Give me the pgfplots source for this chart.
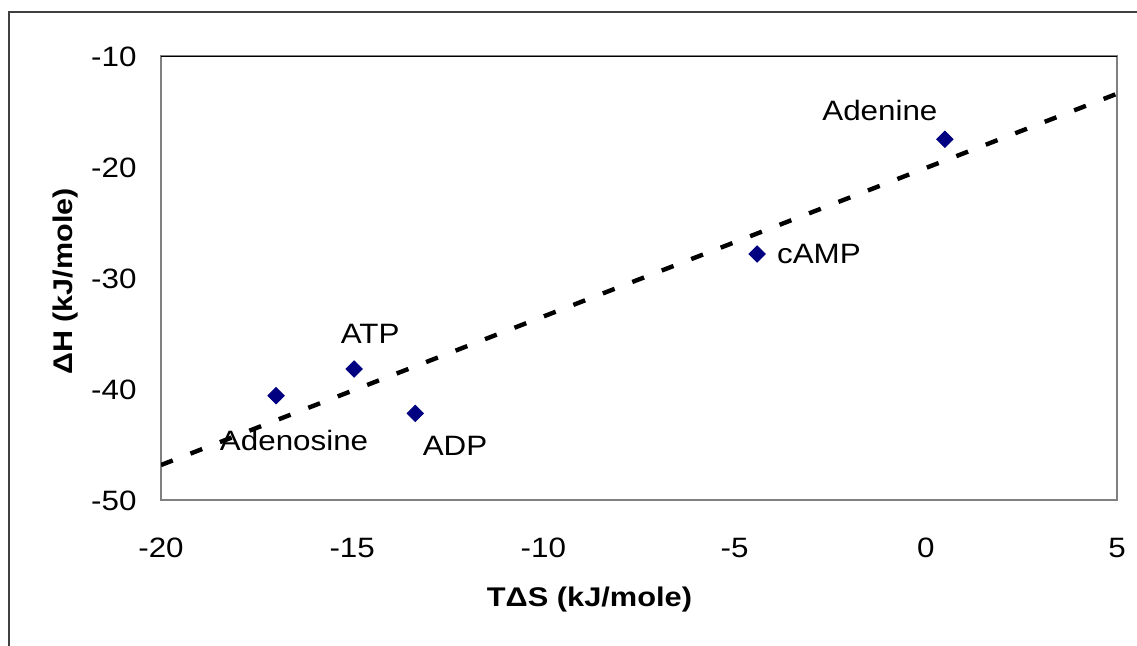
\documentclass[border=0pt]{standalone}
\usepackage{pgfplots}
\pgfplotsset{compat=1.18}
\usepackage{fontspec}
\setmainfont{Liberation Sans}
\begin{document}
\begin{tikzpicture}
\useasboundingbox (0,0) rectangle (568.5pt,-323pt);
\draw[line width=0.7pt, black!75] (568.5pt,-6pt) -- (4.5pt,-6pt) -- (4.5pt,-323pt);
\begin{axis}[
  at={(80.5pt,-250pt)}, anchor=south west,
  width=478pt, height=222pt, scale only axis,
  xmin=-20, xmax=5, ymin=-50, ymax=-10,
  xtick={-20,-15,-10,-5,0,5},
  xticklabels={-20,-15,-10,-5,0,5},
  ytick={-50,-40,-30,-20,-10},
  yticklabels={-50,-40,-30,-20,-10},
  major tick length=0pt,
  axis line style={gray, line width=0.8pt},
  tick label style={font=\fontsize{14}{16}\selectfont, inner sep=0pt},
  xticklabel style={anchor=base, yshift=-29pt, xscale=1.12},
  yticklabel style={anchor=base east, xshift=-12pt, yshift=-5.3pt, xscale=1.12},
  xlabel={TΔS (kJ/mole)},
  ylabel={ΔH (kJ/mole)},
  label style={font=\fontsize{13.5}{15}\selectfont\bfseries, inner sep=0pt},
  xlabel style={at={(axis description cs:0.4482,-0.241)}, anchor=base, xscale=1.14},
  ylabel style={at={(axis description cs:-0.0931,0.492)}, anchor=base, xscale=1.13},
]
\addplot[black, line width=2.2pt, dash pattern=on 6.3pt off 9.5pt] coordinates {(-20,-46.85) (5,-13.4)};
\addplot[only marks, mark=square*, mark size=2.9pt, mark options={rotate=45, fill={rgb,255:red,0;green,0;blue,128}, draw={rgb,255:red,0;green,0;blue,128}}]
  coordinates {(0.50,-17.5) (-4.41,-27.84) (-14.95,-38.2) (-16.99,-40.6) (-13.35,-42.2)};
\draw[black, line width=0.8pt] (axis cs:-20,-10) -- (axis cs:5,-10);
\begin{scope}[every node/.style={font=\fontsize{14}{16}\selectfont, inner sep=0pt, xscale=1.12}]
\node[anchor=base] at (axis cs:-1.20,-15.83) {Adenine};
\node[anchor=base west] at (axis cs:-3.90,-28.65) {cAMP};
\node[anchor=base] at (axis cs:-14.53,-35.88) {ATP};
\node[anchor=base] at (axis cs:-16.52,-45.56) {Adenosine};
\node[anchor=base] at (axis cs:-12.31,-46.01) {ADP};
\end{scope}
\end{axis}
\end{tikzpicture}
\end{document}
